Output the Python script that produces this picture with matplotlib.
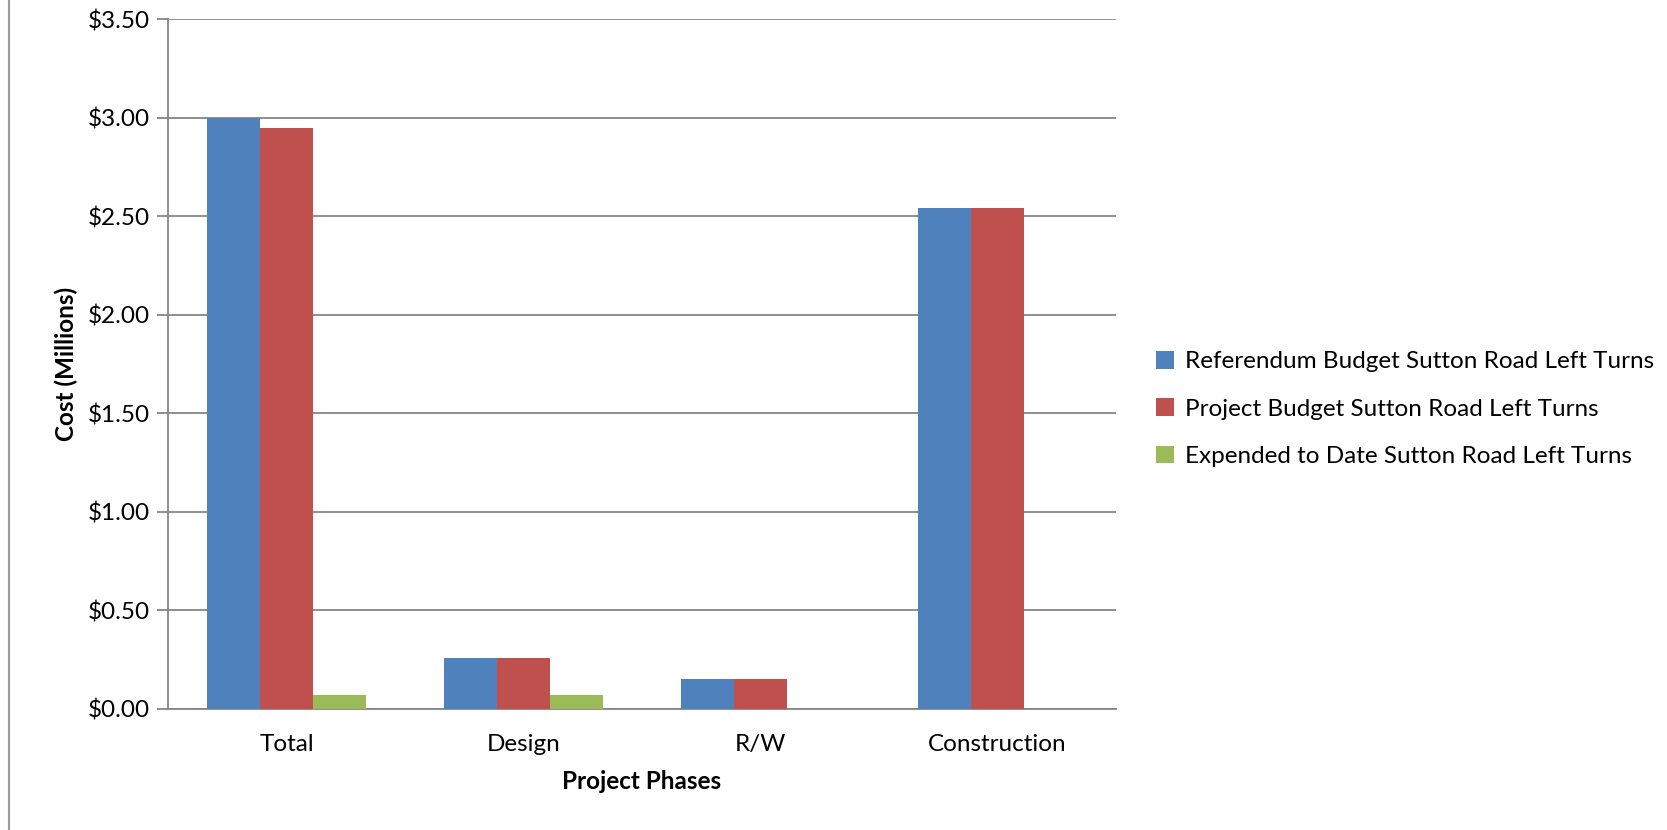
import numpy as np
import matplotlib
matplotlib.use("Agg")
import matplotlib.pyplot as plt
from matplotlib.ticker import FuncFormatter, MultipleLocator

# 数据
phases = ["Total", "Design", "R/W", "Construction"]
series_names = [
    "Referendum Budget Sutton Road Left Turns",
    "Project Budget Sutton Road Left Turns",
    "Expended to Date Sutton Road Left Turns",
]
referendum = [3.00, 0.26, 0.15, 2.54]
project = [2.95, 0.26, 0.15, 2.54]
expended = [0.07, 0.07, 0.0, 0.0]
colors = ["#4F81BD", "#C0504D", "#9BBB59"]

plt.rcParams["font.family"] = ["Lato", "DejaVu Sans"]
fs = 17.5

fig = plt.figure(figsize=(16.67, 8.30), dpi=100)
ax = fig.add_axes([0.1008, 0.1458, 0.5687, 0.8312])

x = np.arange(len(phases))
width = 0.224
for i, (vals, name, c) in enumerate(zip([referendum, project, expended], series_names, colors)):
    ax.bar(x + (i - 1) * width, vals, width, color=c, label=name, zorder=3)

ax.set_xlim(-0.5, len(phases) - 0.5)
ax.set_ylim(0, 3.5)
ax.yaxis.set_major_locator(MultipleLocator(0.5))
ax.yaxis.set_major_formatter(FuncFormatter(lambda v, p: f"${v:.2f}"))
ax.set_xticks(x)
ax.set_xticklabels(phases)

grid_c = "#868686"
ax.grid(axis="y", color=grid_c, linewidth=1.3, zorder=0)
for s in ["top", "right"]:
    ax.spines[s].set_visible(False)
for s in ["left", "bottom"]:
    ax.spines[s].set_color(grid_c)
    ax.spines[s].set_linewidth(1.3)
ax.tick_params(axis="y", length=8, width=1.3, color=grid_c, labelsize=fs, pad=5)
ax.tick_params(axis="x", length=0, labelsize=fs, pad=18)

ax.set_ylabel("Cost (Millions)", fontsize=fs, fontweight="bold", labelpad=7)
ax.set_xlabel("Project Phases", fontsize=fs, fontweight="bold", labelpad=11)

ax.legend(loc="center left", bbox_to_anchor=(1.019, 0.435), frameon=False,
          fontsize=fs, handlelength=0.75, handleheight=0.75, handletextpad=0.45,
          labelspacing=1.07)

# 左侧边框线
fig.add_artist(plt.Line2D([0.0054, 0.0054], [0, 1], color="#9a9a9a", linewidth=1.5))

plt.savefig("out.png", dpi=100)
plt.close()
